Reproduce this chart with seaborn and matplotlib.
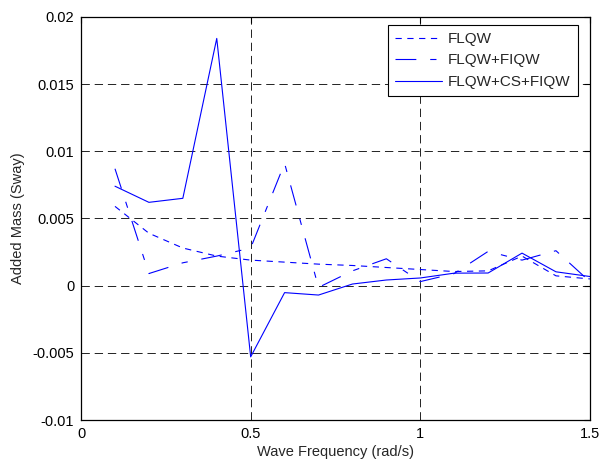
import matplotlib
matplotlib.use("Agg")
import matplotlib.pyplot as plt
import seaborn as sns
import pandas as pd

freq = [0.1, 0.2, 0.3, 0.4, 0.5, 0.6, 0.7, 0.8, 0.9, 1.0, 1.1, 1.2, 1.3, 1.4, 1.5]
flqw = [0.0059, 0.0039, 0.0028, 0.0022, 0.0019, 0.00175, 0.0016, 0.0015, 0.00135, 0.0012,
        0.00105, 0.0011, 0.0022, 0.00073, 0.0005]
flqw_fiqw = [0.0087, 0.0009, 0.0017, 0.0022, 0.0028, 0.0091, -0.00013, 0.0011, 0.0020, 0.0003,
             0.0009, 0.00255, 0.0019, 0.0026, 0.0003]
flqw_cs_fiqw = [0.0074, 0.0062, 0.0065, 0.0184, -0.0053, -0.00052, -0.0007, 0.00012, 0.00042,
                0.00057, 0.00093, 0.00094, 0.00242, 0.00103, 0.00068]
series_names = ["FLQW", "FLQW+FIQW", "FLQW+CS+FIQW"]
xticks = [0, 0.5, 1, 1.5]
yticks = [-0.01, -0.005, 0, 0.005, 0.01, 0.015, 0.02]
ytick_labels = ["-0.01", "-0.005", "0", "0.005", "0.01", "0.015", "0.02"]
xtick_labels = ["0", "0.5", "1", "1.5"]

df = pd.DataFrame({
    "freq": freq * 3,
    "mass": flqw + flqw_fiqw + flqw_cs_fiqw,
    "series": [series_names[0]] * len(freq) + [series_names[1]] * len(freq) + [series_names[2]] * len(freq),
})

sns.set_style("white")
plt.rcParams["font.family"] = ["Liberation Sans", "DejaVu Sans"]
plt.rcParams["lines.scale_dashes"] = False

fig = plt.figure(figsize=(6.05, 4.66), dpi=100)
ax = fig.add_axes([0.134, 0.0987, 0.841, 0.865])

dash_map = {"FLQW": (4.5, 4.0), "FLQW+FIQW": (15, 10, 4.5, 10), "FLQW+CS+FIQW": ""}
sns.lineplot(data=df, x="freq", y="mass", style="series", dashes=dash_map,
             color="#0000ff", linewidth=0.8, ax=ax, sort=False, estimator=None,
             legend=False)

ax.set_xlim(0, 1.5)
ax.set_ylim(-0.01, 0.02)
ax.set_xticks(xticks)
ax.set_xticklabels(xtick_labels)
ax.set_yticks(yticks)
ax.set_yticklabels(ytick_labels)
ax.grid(True, color="#222222", linestyle=(0, (6, 3.5)), linewidth=0.7)
ax.set_axisbelow(True)
ax.tick_params(direction="in", top=True, right=True, length=4, width=0.8,
               labelsize=10.5, colors="black", pad=5)
for s in ax.spines.values():
    s.set_visible(True)
    s.set_color("black")
    s.set_linewidth(0.9)
ax.set_xlabel("Wave Frequency (rad/s)", fontsize=10.5, labelpad=3)
ax.set_ylabel("Added Mass (Sway)", fontsize=10.5, labelpad=5)

lines = ax.get_lines()[:3]
for ln in lines:
    ln.set_color("#0000ff")
leg = ax.legend(lines, series_names, loc="upper right", bbox_to_anchor=(0.976, 0.980),
                borderaxespad=0, fontsize=11, frameon=True, fancybox=False,
                edgecolor="black", framealpha=1, borderpad=0.45, handlelength=3.1,
                handletextpad=0.4, labelspacing=0.5)
leg.get_frame().set_linewidth(0.8)

fig.savefig("out.png", dpi=100)
